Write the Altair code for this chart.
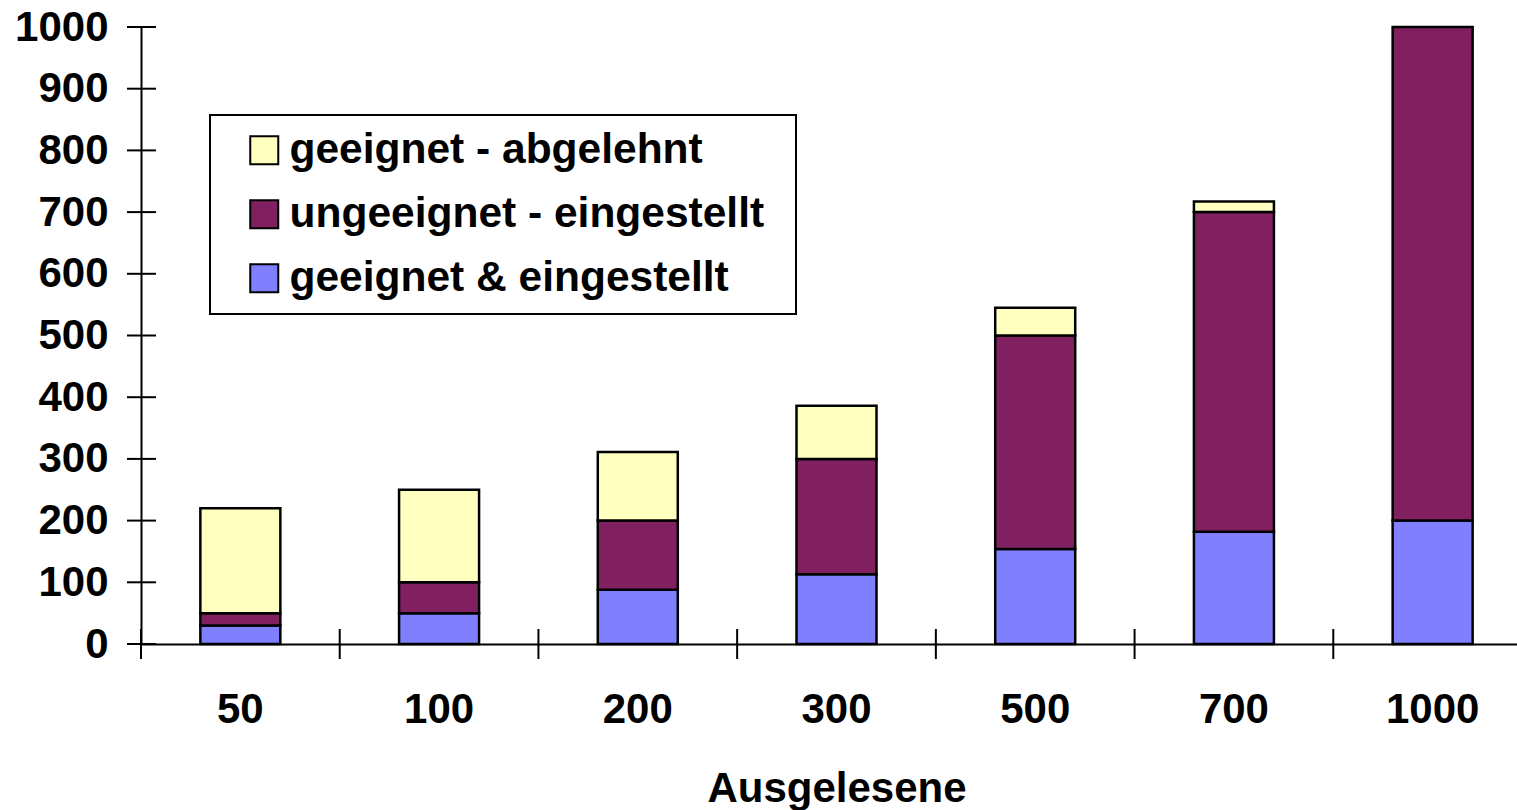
import altair as alt
import pandas as pd

categories = ["50", "100", "200", "300", "500", "700", "1000"]
series = ["geeignet - abgelehnt", "ungeeignet - eingestellt", "geeignet & eingestellt"]
colors = ["#FFFFC0", "#802060", "#8080FF"]
geeignet_eingestellt = [30, 50, 88, 113, 154, 182, 200]
ungeeignet_eingestellt = [20, 50, 112, 187, 346, 518, 800]
geeignet_abgelehnt = [170, 150, 111, 86, 45, 17, 0]
y_ticks = [0, 100, 200, 300, 400, 500, 600, 700, 800, 900, 1000]

FONT = "Liberation Sans"

rows = []
for vals, name, order in [
    (geeignet_eingestellt, series[2], 0),
    (ungeeignet_eingestellt, series[1], 1),
    (geeignet_abgelehnt, series[0], 2),
]:
    for c, v in zip(categories, vals):
        if v > 0:
            rows.append({"cat": c, "value": v, "series": name, "ord": order})
df = pd.DataFrame(rows)

H = 617
xscale = alt.Scale(range=[0, 1391], paddingInner=0, paddingOuter=0)

bars = alt.Chart(df).mark_bar(
    width=alt.RelativeBandSize(0.4026), stroke="black", strokeWidth=2.5
).encode(
    x=alt.X(
        "cat:N",
        sort=categories,
        scale=xscale,
        axis=alt.Axis(
            title="Ausgelesene",
            labelAngle=0,
            ticks=False,
            tickSize=0,
            labelPadding=45,
            titlePadding=38,
            domainColor="black",
            domainWidth=2,
            labelFont=FONT,
            labelFontSize=42,
            labelFontWeight="bold",
            labelColor="black",
            titleFont=FONT,
            titleFontSize=42,
            titleFontWeight="bold",
            titleColor="black",
            grid=False,
        ),
    ),
    y=alt.Y(
        "value:Q",
        stack="zero",
        scale=alt.Scale(domain=[0, 1000], nice=False),
        axis=alt.Axis(
            title=None,
            values=y_ticks,
            format="d",
            ticks=False,
            tickSize=0,
            labelPadding=33,
            domainColor="black",
            domainWidth=2,
            labelFont=FONT,
            labelFontSize=42,
            labelFontWeight="bold",
            labelColor="black",
            grid=False,
        ),
    ),
    color=alt.Color(
        "series:N",
        scale=alt.Scale(domain=series, range=colors),
        legend=alt.Legend(
            orient="none",
            legendX=69,
            legendY=88,
            title=".",
            titleOrient="right",
            titleColor="white",
            titleFontSize=6,
            titlePadding=16,
            labelFont=FONT,
            labelFontSize=42.5,
            labelFontWeight="bold",
            labelColor="black",
            labelLimit=1000,
            symbolType="square",
            symbolSize=784,
            symbolStrokeColor="black",
            symbolStrokeWidth=2,
            symbolOpacity=1,
            strokeColor="black",
            fillColor="white",
            padding=14,
            rowPadding=21,
            symbolOffset=19,
            labelOffset=4,
        ),
    ),
    order=alt.Order("ord:Q", sort="ascending"),
)

yticks = alt.Chart(pd.DataFrame({"v": y_ticks})).mark_rule(
    color="black", strokeWidth=2
).encode(
    y=alt.Y("v:Q"),
    x=alt.value(-14),
    x2=alt.value(15),
)

xticks = alt.Chart(pd.DataFrame({"cat": categories})).mark_rule(
    color="black", strokeWidth=2
).encode(
    x=alt.X("cat:N", sort=categories, bandPosition=0),
    y=alt.value(H - 15),
    y2=alt.value(H + 15),
)

chart = (
    alt.layer(bars, yticks, xticks)
    .properties(
        width=1376,
        height=H,
        autosize=alt.AutoSizeParams(type="none"),
        padding={"left": 141, "top": 27, "right": 0, "bottom": 166},
        background="white",
    )
    .configure_view(stroke=None)
    .configure_legend(strokeWidth=2)
)

chart.save("out.html", embed_options={"renderer": "svg", "actions": False})
